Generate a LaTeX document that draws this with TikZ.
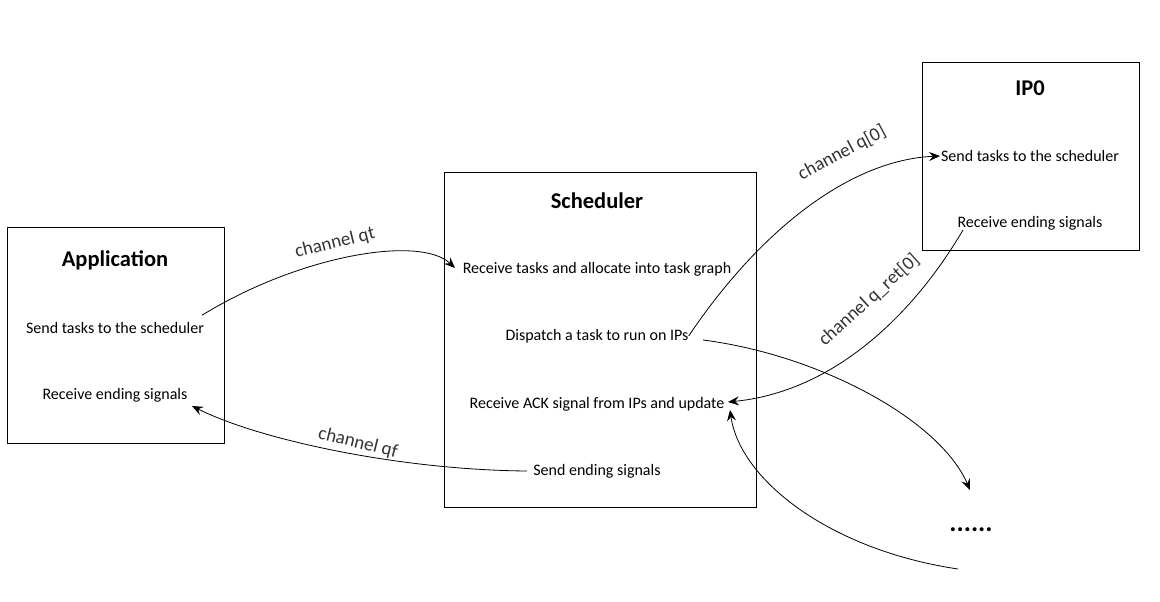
\documentclass[tikz,border=0pt]{standalone}
\usepackage{fontspec}
\setmainfont{Carlito}
\usetikzlibrary{arrows.meta}
\begin{document}
\begin{tikzpicture}[x=1pt,y=-1pt,
  ttl/.style={font=\fontsize{22.5}{26}\selectfont\bfseries,inner sep=0pt},
  txt/.style={font=\fontsize{16}{19}\selectfont,inner sep=1pt},
  lbl/.style={font=\fontsize{19}{22}\selectfont,text=black!80,inner sep=0pt},
  frame/.style={line width=0.9pt},
  conn/.style={line width=0.8pt,-{Stealth[length=11pt,width=9pt,inset=4pt]}}]
\useasboundingbox (0,0) rectangle (1160,602);
% boxes
\draw[frame] (7,227) rectangle (224,443);
\draw[frame] (444,172) rectangle (756,507);
\draw[frame] (922,62) rectangle (1139,250);
% titles
\node[ttl] (apptitle) at (115,260) {Application};
\node[ttl] (schtitle) at (597,201) {Scheduler};
\node[ttl] (iptitle) at (1030,88) {IP0};
% texts
\node[txt] (appsend) at (115,328) {Send tasks to the scheduler};
\node[txt] (apprecv) at (115,395) {Receive ending signals};
\node[txt] (schrecv) at (597,269) {Receive tasks and allocate into task graph};
\node[txt] (schdisp) at (597,336) {Dispatch a task to run on IPs};
\node[txt] (schack) at (597,404) {Receive ACK signal from IPs and update};
\node[txt] (schsend) at (597,471) {Send ending signals};
\node[txt] (ipsend) at (1030,156) {Send tasks to the scheduler};
\node[txt] (iprecv) at (1030,223) {Receive ending signals};
\node[font=\fontsize{27}{30}\selectfont\bfseries,inner sep=0pt] (dots) at (971,530) {......};
% free ends
\coordinate (ipsout) at (970,490);
\coordinate (ipsin) at (958,569);
% connectors
\draw[conn] (appsend.north east) ++(-3,-6) .. controls (300,255) and (420,235) .. (455,268);
\draw[conn] (schsend.west) ++(-5,0) .. controls (400,470) and (260,440) .. (192,406);
\draw[conn] (schdisp.east) ++(-1,0) .. controls (760,230) and (850,160) .. (940,156);
\draw[conn] (963,230) .. controls (910,320) and (830,392) .. (728,402);
\draw[conn] (703,340) .. controls (820,355) and (940,420) .. (ipsout);
\draw[conn] (ipsin) .. controls (830,550) and (740,480) .. (730,410);
% labels
\node[lbl,rotate=14] (lqt) at (335,243) {channel qt};
\node[lbl,rotate=-14] (lqf) at (358,443) {channel qf};
\node[lbl,rotate=28] (lq0) at (842,153) {channel q[0]};
\node[lbl,rotate=42] (lqr) at (869,300) {channel q\_ret[0]};
\end{tikzpicture}
\end{document}
